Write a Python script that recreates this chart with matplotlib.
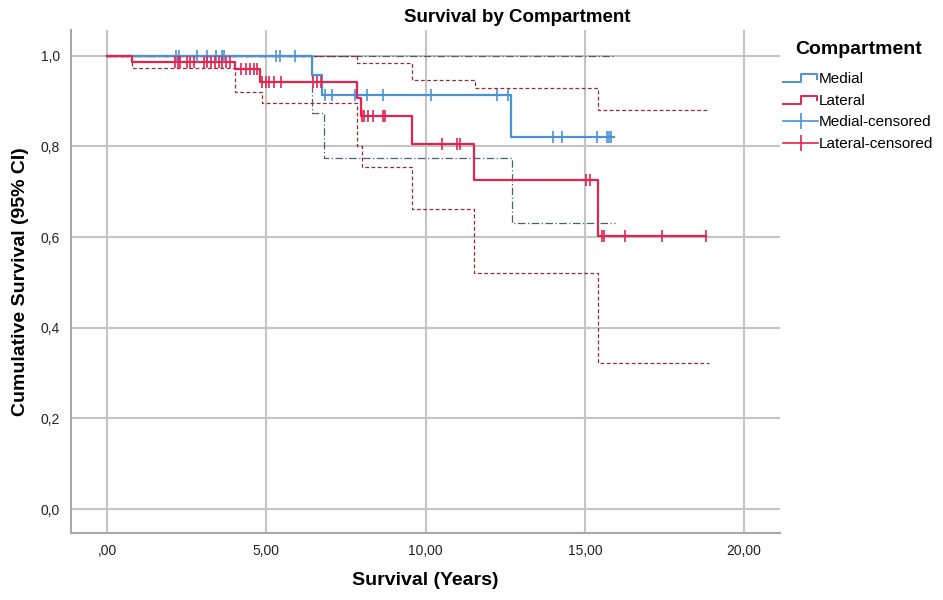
import numpy as np
import matplotlib.pyplot as plt
from matplotlib.lines import Line2D
from matplotlib.legend_handler import HandlerBase

plt.rcParams['font.family'] = ['Liberation Sans', 'DejaVu Sans']

# Kaplan-Meier steps
med_t = [0, 6.45, 6.74, 12.68, 15.9]
med_s = [1.0, 0.958, 0.913, 0.822, 0.822]
med_lo_t = [0, 6.42, 6.81, 12.72, 15.94]
med_lo = [1.0, 0.874, 0.775, 0.631, 0.631]
med_hi_t = [0, 15.94]
med_hi = [1.0, 1.0]

lat_t = [0, 0.77, 4.02, 4.8, 7.84, 7.97, 9.56, 11.52, 15.42, 18.8]
lat_s = [1.0, 0.986, 0.971, 0.943, 0.906, 0.867, 0.805, 0.725, 0.603, 0.603]
lat_lo_t = [0, 0.77, 4.02, 4.85, 7.84, 7.99, 9.58, 11.53, 15.4, 18.9]
lat_lo = [1.0, 0.973, 0.92, 0.897, 0.80, 0.755, 0.662, 0.522, 0.322, 0.322]
lat_hi_t = [0, 7.86, 9.56, 11.55, 15.42, 18.86]
lat_hi = [1.0, 0.984, 0.947, 0.929, 0.881, 0.881]

# censored observations (years)
med_cens = [2.17, 2.27, 2.81, 3.14, 3.42, 3.6, 3.68, 5.32, 5.43, 5.9,
             6.84, 7.05, 7.78, 8.15, 8.67, 10.16, 12.25, 12.6,
             14.01, 14.27, 15.37, 15.68, 15.75, 15.82]
lat_cens = [2.15, 2.22, 2.3, 2.5, 2.62, 2.72, 3.05, 3.15, 3.28, 3.4, 3.5, 3.6, 3.72, 3.85,
            4.2, 4.35, 4.5, 4.62, 4.72,
            4.88, 4.98, 5.1, 5.25, 5.45, 6.47, 6.6, 6.72,
            8.0, 8.06, 8.2, 8.36, 8.65, 8.72,
            10.52, 11.0, 11.08,
            15.03, 15.16,
            15.53, 15.6, 16.26, 17.43, 18.79]

xticks = [0, 5, 10, 15, 20]
xlabels = [',00', '5,00', '10,00', '15,00', '20,00']
yticks = [0, 0.2, 0.4, 0.6, 0.8, 1.0]
ylabels = ['0,0', '0,2', '0,4', '0,6', '0,8', '1,0']

BLUE = '#4a92d6'
RED = '#e2244f'
BLUE_CI = '#4f5f78'
RED_CI = '#962b36'


def surv_at(t, times, surv):
    # value of the step curve at time t
    i = np.searchsorted(times, t, side='right') - 1
    return np.asarray(surv)[i]


class StepHandler(HandlerBase):
    def create_artists(self, legend, orig, xd, yd, w, h, fontsize, trans):
        xs = np.array([0, 0.5, 0.5, 0.97, 0.97]) * w - xd
        ys = np.array([0.1, 0.1, 0.8, 0.8, 0.4]) * h - yd
        ln = Line2D(xs, ys, color=orig.get_color(), lw=1.4, transform=trans)
        return [ln]


fig = plt.figure(figsize=(9.43, 6), dpi=100)
ax = fig.add_axes([0.0753, 0.1122, 0.752, 0.8378])

ax.step(med_hi_t, med_hi, where='post', color=BLUE_CI, lw=0.9, ls=(0, (6, 2, 1, 2)))
ax.step(med_lo_t, med_lo, where='post', color=BLUE_CI, lw=0.9, ls=(0, (6, 2, 1, 2)))
ax.step(lat_hi_t, lat_hi, where='post', color=RED_CI, lw=0.9, ls=(0, (3, 2)))
ax.step(lat_lo_t, lat_lo, where='post', color=RED_CI, lw=0.9, ls=(0, (3, 2)))

l1, = ax.step(med_t, med_s, where='post', color=BLUE, lw=1.6)
l2, = ax.step(lat_t, lat_s, where='post', color=RED, lw=1.6)
ax.plot(med_cens, surv_at(med_cens, med_t, med_s), ls='none', marker='|',
        ms=9, mew=1.2, color=BLUE)
ax.plot(lat_cens, surv_at(lat_cens, lat_t, lat_s), ls='none', marker='|',
        ms=9, mew=1.2, color=RED)

ax.set_xlim(-1.13, 21.13)
ax.set_ylim(-0.052, 1.057)
ax.set_xticks(xticks)
ax.set_xticklabels(xlabels)
ax.set_yticks(yticks)
ax.set_yticklabels(ylabels)
ax.tick_params(length=0, labelsize=10, pad=8, colors='#222222')
ax.grid(True, color='#c4c4c4', lw=1.5)
ax.set_axisbelow(True)
for s in ['top', 'right']:
    ax.spines[s].set_visible(False)
for s in ['left', 'bottom']:
    ax.spines[s].set_color('#a8a8a8')
    ax.spines[s].set_linewidth(1.5)

ax.set_xlabel('Survival (Years)', fontsize=14, fontweight='bold', labelpad=10)
ax.set_ylabel('Cumulative Survival (95% CI)', fontsize=14, fontweight='bold', labelpad=8)
fig.text(517 / 943, 1 - 17 / 600, 'Survival by Compartment', fontsize=13.5,
         fontweight='bold', ha='center', va='center')

# legend
fig.text(795 / 943, 1 - 49 / 600, 'Compartment', fontsize=14, fontweight='bold',
         ha='left', va='center')
h_mc = Line2D([0, 0.5, 1], [0, 0, 0], color=BLUE, lw=1.2, marker='|', ms=12,
              mew=1.2, markevery=[1])
h_lc = Line2D([0, 0.5, 1], [0, 0, 0], color=RED, lw=1.2, marker='|', ms=12,
              mew=1.2, markevery=[1])
leg = fig.legend([l1, l2, h_mc, h_lc],
                 ['Medial', 'Lateral', 'Medial-censored', 'Lateral-censored'],
                 handler_map={l1: StepHandler(), l2: StepHandler()},
                 loc='upper left', bbox_to_anchor=(783 / 943, 1 - 72 / 600),
                 frameon=False, fontsize=11, borderpad=0, borderaxespad=0,
                 handlelength=2.3, handletextpad=0.05, labelspacing=0.5)

fig.savefig('out.png', dpi=100)
